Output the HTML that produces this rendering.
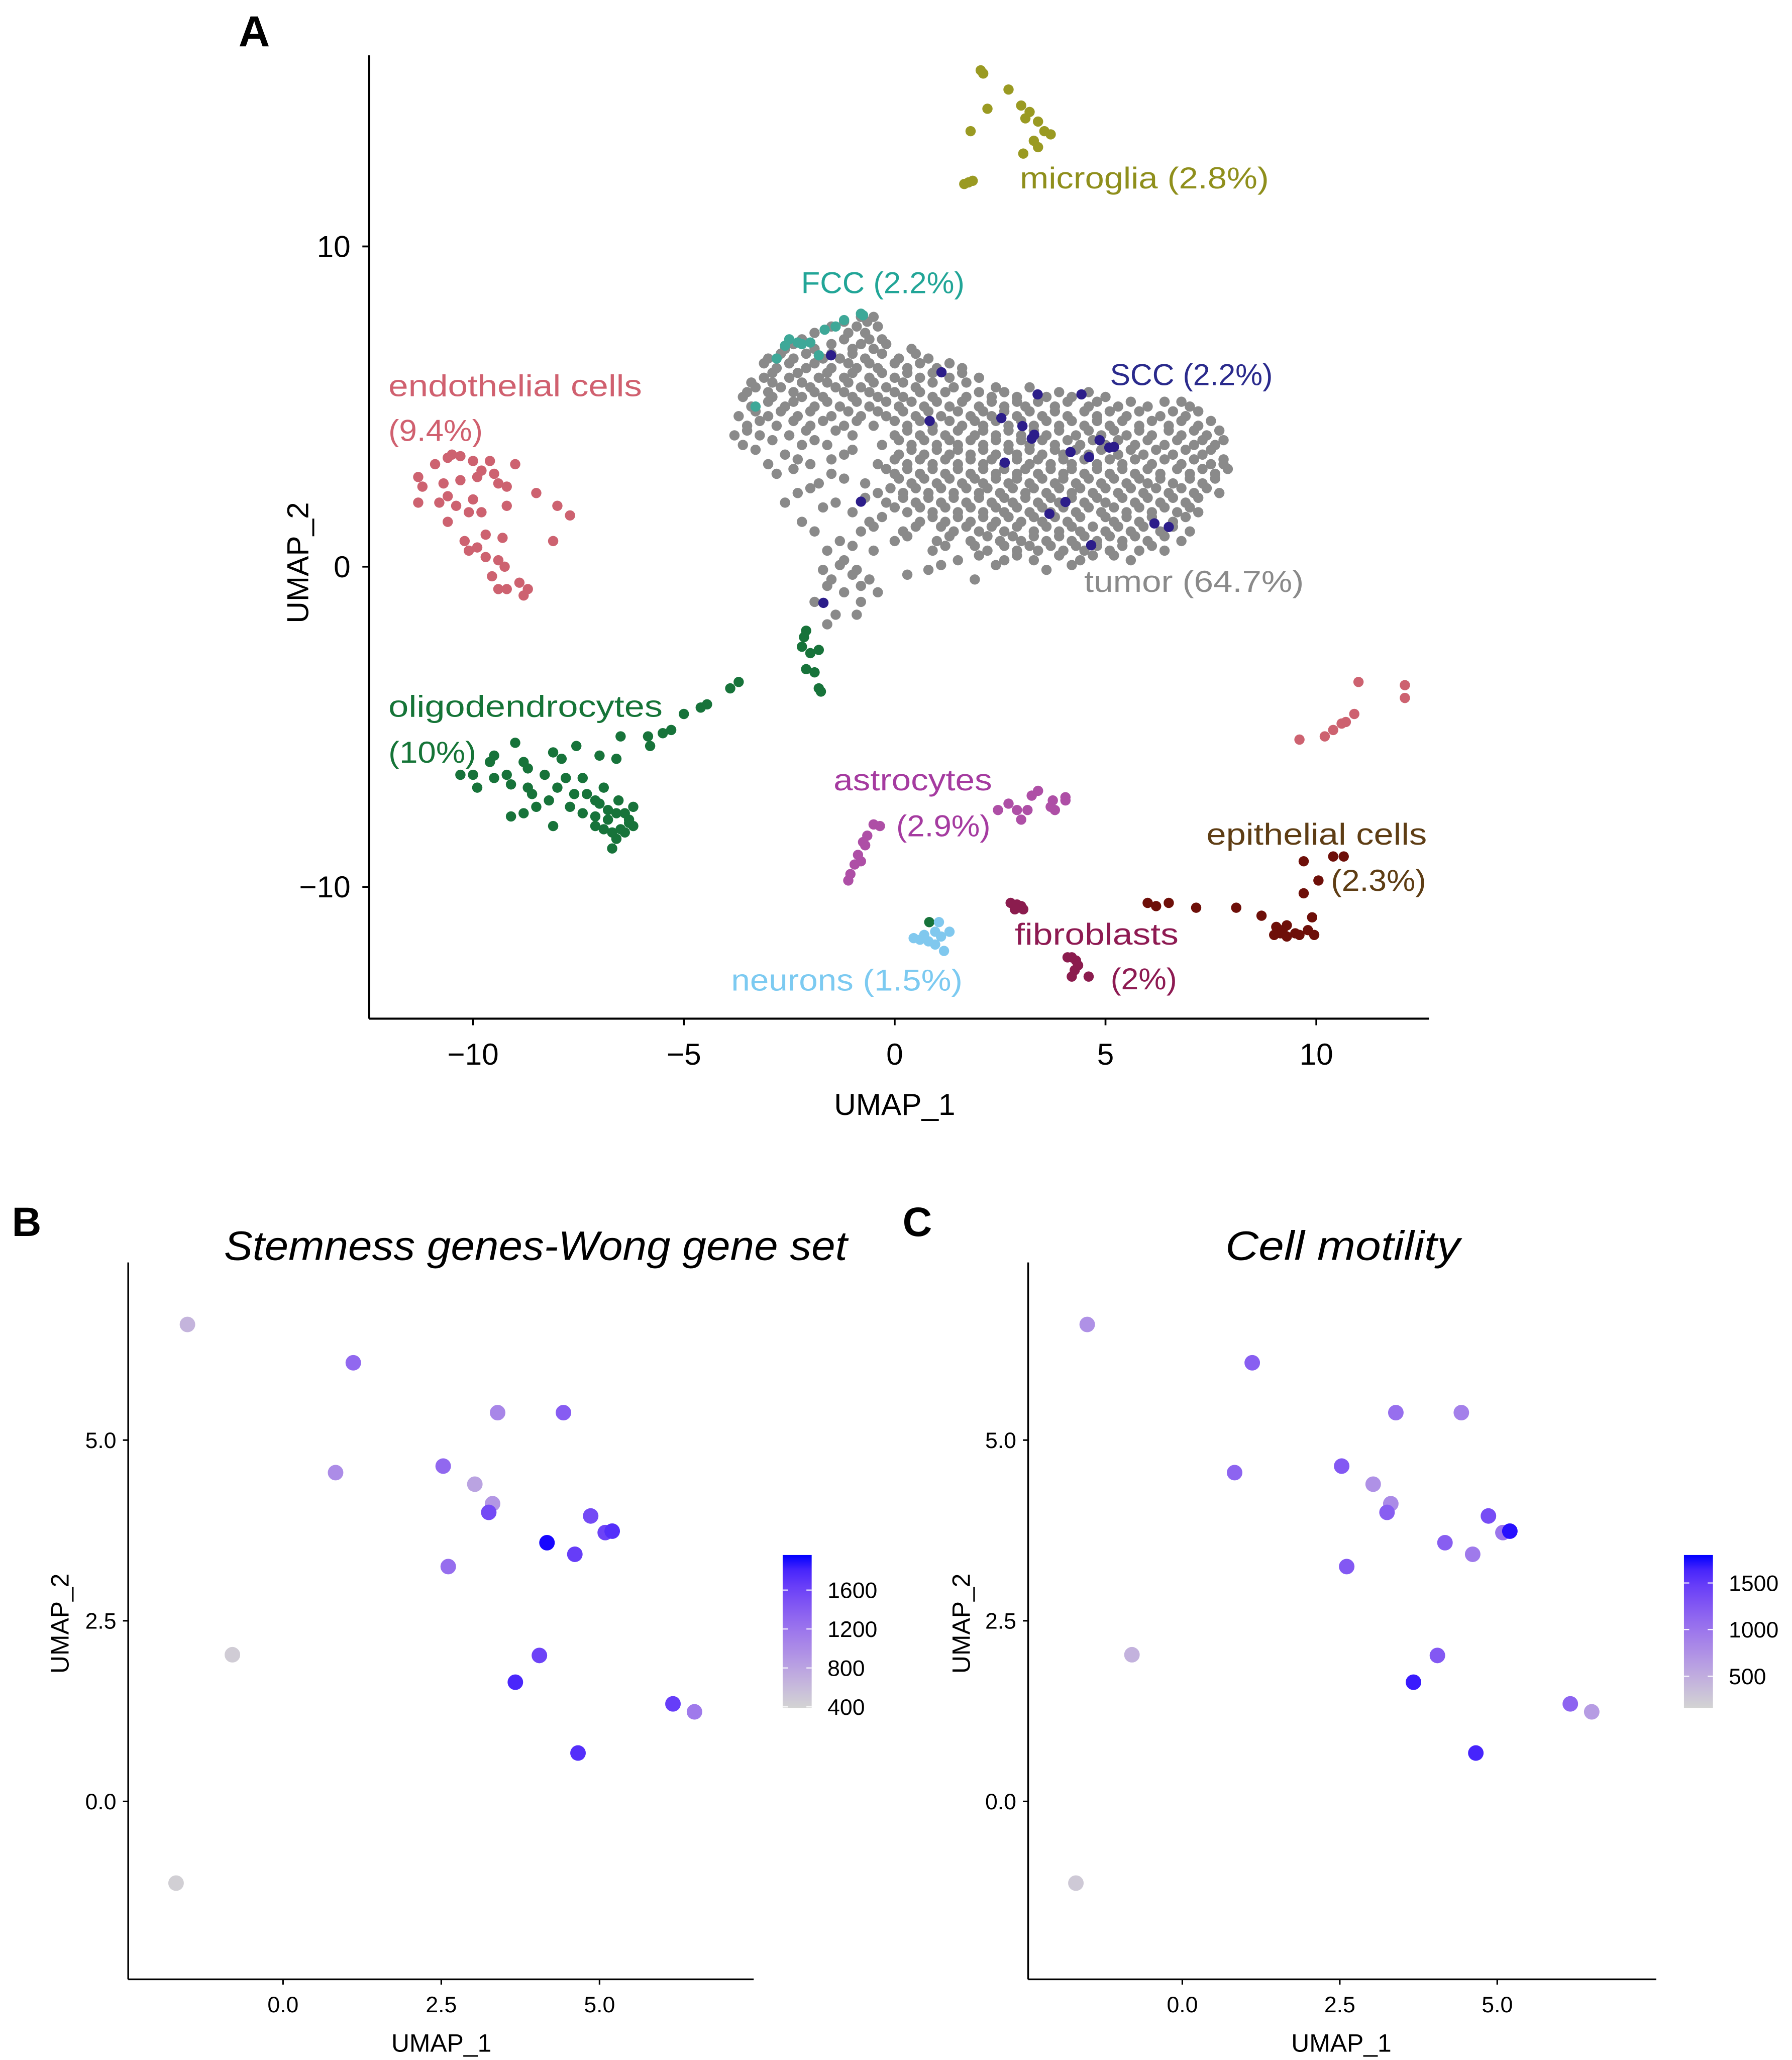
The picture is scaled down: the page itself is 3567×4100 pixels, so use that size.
<!DOCTYPE html>
<html><head><meta charset="utf-8"><title>UMAP figure</title>
<style>
html,body{margin:0;padding:0;background:#fff;}
svg{display:block;font-family:"Liberation Sans",sans-serif;}
</style></head>
<body>
<svg id="fig" xmlns="http://www.w3.org/2000/svg" width="3567" height="4100" viewBox="0 0 1360 1563.2">
<rect x="0" y="0" width="1360" height="1563.2" fill="#fff"/>
<!-- Panel A -->
<g id="panelA">
  <text x="181" y="35" font-size="33" font-weight="bold">A</text>
  <line x1="280.2" y1="42" x2="280.2" y2="773" stroke="#000" stroke-width="1.6"/>
  <line x1="280.2" y1="773" x2="1084.5" y2="773" stroke="#000" stroke-width="1.6"/>
  <text x="679" y="846" font-size="23" text-anchor="middle">UMAP_1</text>
  <text transform="translate(234,427) rotate(-90)" font-size="23" text-anchor="middle">UMAP_2</text>
  <g id="aPts"></g>
  <g id="aTicks"></g>
  <g font-size="23">
    <text x="774" y="143" textLength="189" lengthAdjust="spacingAndGlyphs" fill="#8f8f1c">microglia (2.8%)</text>
    <text x="608" y="222.5" textLength="124" lengthAdjust="spacingAndGlyphs" fill="#21a597">FCC (2.2%)</text>
    <text x="842.4" y="292.3" textLength="123.5" lengthAdjust="spacingAndGlyphs" fill="#2a2a8c">SCC (2.2%)</text>
    <text x="294.8" y="300.7" textLength="192.4" lengthAdjust="spacingAndGlyphs" fill="#d0606f">endothelial cells</text>
    <text x="294.8" y="334.6" textLength="71.6" lengthAdjust="spacingAndGlyphs" fill="#d0606f">(9.4%)</text>
    <text x="822.8" y="449.2" textLength="166.7" lengthAdjust="spacingAndGlyphs" fill="#8a8a8a">tumor (64.7%)</text>
    <text x="294.8" y="543.9" textLength="208.1" lengthAdjust="spacingAndGlyphs" fill="#157437">oligodendrocytes</text>
    <text x="294.8" y="578.8" textLength="66.6" lengthAdjust="spacingAndGlyphs" fill="#157437">(10%)</text>
    <text x="632.6" y="599.7" textLength="120.3" lengthAdjust="spacingAndGlyphs" fill="#a53ba0">astrocytes</text>
    <text x="680.2" y="634.6" textLength="71.5" lengthAdjust="spacingAndGlyphs" fill="#a53ba0">(2.9%)</text>
    <text x="915.6" y="641" textLength="167.3" lengthAdjust="spacingAndGlyphs" fill="#5e3d14">epithelial cells</text>
    <text x="1010.1" y="675.9" textLength="72.2" lengthAdjust="spacingAndGlyphs" fill="#5e3d14">(2.3%)</text>
    <text x="770.2" y="716.8" textLength="124.2" lengthAdjust="spacingAndGlyphs" fill="#8e1a52">fibroblasts</text>
    <text x="842.9" y="750.7" textLength="50.3" lengthAdjust="spacingAndGlyphs" fill="#8e1a52">(2%)</text>
    <text x="554.9" y="751.7" textLength="175.6" lengthAdjust="spacingAndGlyphs" fill="#7ccaf1">neurons (1.5%)</text>
  </g>
</g>
<!-- Panel B -->
<g id="panelB">
  <text x="9" y="938" font-size="31" font-weight="bold">B</text>
  <text x="170" y="956" font-size="31" font-style="italic" textLength="473" lengthAdjust="spacingAndGlyphs">Stemness genes-Wong gene set</text>
  <line x1="97.3" y1="958" x2="97.3" y2="1502" stroke="#000" stroke-width="1.3"/>
  <line x1="97.3" y1="1502" x2="572" y2="1502" stroke="#000" stroke-width="1.3"/>
  <text x="335" y="1557" font-size="19" text-anchor="middle">UMAP_1</text>
  <text transform="translate(52,1232) rotate(-90)" font-size="19" text-anchor="middle">UMAP_2</text>
  <g id="bTicks"></g>
  <g id="bPts"></g>
  <g id="bLegend"></g>
</g>
<!-- Panel C -->
<g id="panelC">
  <text x="685" y="938" font-size="31" font-weight="bold">C</text>
  <text x="930" y="956" font-size="31" font-style="italic" textLength="178" lengthAdjust="spacingAndGlyphs">Cell motility</text>
  <line x1="780.3" y1="958" x2="780.3" y2="1502" stroke="#000" stroke-width="1.3"/>
  <line x1="780.3" y1="1502" x2="1257" y2="1502" stroke="#000" stroke-width="1.3"/>
  <text x="1018" y="1557" font-size="19" text-anchor="middle">UMAP_1</text>
  <text transform="translate(736,1232) rotate(-90)" font-size="19" text-anchor="middle">UMAP_2</text>
  <g id="cTicks"></g>
  <g id="cPts"></g>
  <g id="cLegend"></g>
</g>
<defs id="defs"></defs>
</svg>
<script>
// ---------- Panel A data (UMAP coordinates) ----------
const microgliaPts = [[2.04,15.5],[2.1,15.4],[2.7,14.9],[2.2,14.3],[3.0,14.4],[3.2,14.2],[3.1,14.0],[3.4,13.9],[3.7,13.5],[3.55,13.6],[3.4,13.1],[3.3,13.3],[1.8,13.6],[3.05,12.9],[1.75,12.0],[1.65,11.95],[1.85,12.05]];
const fccPts = [[-2.8,6.5],[-2.6,6.9],[-2.5,7.1],[-2.3,7.0],[-2.0,7.0],[-1.66,7.4],[-1.2,7.7],[-1.4,7.5],[-0.8,7.9],[-0.75,7.85],[-3.3,5.0],[-1.8,6.6],[-2.2,6.95]];
const endothelialPts = [[-11.3,2.8],[-10.9,3.2],[-10.5,3.5],[-10.0,3.3],[-9.6,3.3],[-9.0,3.2],[-11.2,2.5],[-10.7,2.6],[-10.3,2.7],[-9.9,2.8],[-9.4,2.6],[-9.2,2.5],[-11.3,2.0],[-10.8,2.0],[-10.4,1.9],[-10.0,2.1],[-9.8,1.7],[-9.2,1.9],[-8.5,2.3],[-8.0,1.9],[-7.7,1.6],[-8.1,0.8],[-10.6,1.4],[-10.1,1.7],[-10.2,0.8],[-9.9,0.6],[-10.1,0.5],[-9.7,0.3],[-9.4,0.2],[-9.25,0.0],[-9.55,-0.3],[-9.4,-0.7],[-9.2,-0.7],[-8.9,-0.5],[-8.8,-0.9],[-8.7,-0.7],[-9.7,1.0],[-9.3,0.9],[-10.6,3.4],[-9.8,3.0],[-10.3,3.45],[-9.5,2.9],[-10.6,2.2],
  [11.0,-3.6],[12.1,-3.7],[12.1,-4.1],[10.9,-4.6],[10.6,-4.9],[10.4,-5.1],[10.2,-5.3],[9.6,-5.4],[10.7,-4.85]];
const oligoPts = [[-2.1,-2.0],[-2.2,-2.5],[-2.0,-2.7],[-1.8,-2.6],[-2.1,-3.2],[-1.9,-3.3],[-1.8,-3.8],[-1.75,-3.9],[-2.15,-2.2],[-3.7,-3.6],[-3.9,-3.8],[-4.45,-4.3],[-4.6,-4.4],[-5.0,-4.6],[-5.3,-5.1],[-5.5,-5.2],[-5.85,-5.3],[-5.8,-5.6],[-6.5,-5.3],[-6.6,-6.0],[-7.0,-5.9],[-7.55,-5.6],[-8.1,-5.8],[-9.0,-5.5],[-9.5,-5.9],[-9.6,-6.1],[-8.8,-6.1],[-10.3,-6.5],[-10.0,-6.5],[-9.9,-6.9],[-9.5,-6.6],[-9.1,-6.8],[-8.7,-6.3],[-8.3,-6.5],[-8.0,-6.9],[-7.8,-6.6],[-7.4,-6.6],[-7.3,-7.1],[-8.6,-7.1],[-8.2,-7.3],[-7.7,-7.5],[-8.8,-7.7],[-9.1,-7.8],[-8.1,-8.1],[-7.4,-7.7],[-7.1,-7.8],[-7.0,-7.4],[-6.8,-7.9],[-6.6,-7.7],[-6.55,-7.3],[-6.4,-7.7],[-6.3,-8.0],[-6.7,-8.3],[-6.9,-8.2],[-6.7,-8.8],[-6.5,-8.2],[-7.1,-8.1],[-8.7,-6.9],[-7.9,-6.0],[-6.4,-8.3],[-7.1,-7.3],[-7.6,-7.1],[-9.2,-6.5],[-8.5,-7.5],[-6.2,-7.5],[-6.9,-6.9],[-6.3,-7.9],[-6.6,-8.5],[-6.8,-7.6],[-6.2,-8.1],
  [0.82,-11.1]];
const astroPts = [[-1.1,-9.8],[-1.05,-9.6],[-0.95,-9.3],[-0.87,-9.0],[-0.7,-8.7],[-0.65,-8.4],[-0.5,-8.05],[-0.35,-8.1],[-0.8,-9.2],[-0.75,-8.6],[2.45,-7.6],[2.7,-7.4],[2.9,-7.6],[3.0,-7.9],[3.15,-7.6],[3.25,-7.15],[3.4,-7.0],[3.75,-7.3],[3.8,-7.6],[4.05,-7.2],[4.05,-7.3],[3.7,-7.5]];
const neuronPts = [[0.45,-11.6],[0.7,-11.5],[0.96,-11.4],[1.3,-11.4],[0.96,-11.8],[1.17,-12.0],[1.05,-11.1],[0.8,-11.7],[0.6,-11.65],[1.1,-11.55]];
const fibroPts = [[2.75,-10.5],[3.0,-10.6],[3.05,-10.7],[2.85,-10.7],[2.9,-10.55],[4.2,-12.2],[4.3,-12.3],[4.27,-12.6],[4.6,-12.8],[4.2,-12.8],[4.1,-12.2],[4.35,-12.45]];
const epithPts = [[6.0,-10.5],[6.2,-10.6],[6.5,-10.5],[7.15,-10.65],[8.1,-10.65],[8.7,-10.9],[9.05,-11.25],[9.15,-11.45],[9.3,-11.2],[9.5,-11.45],[9.0,-11.5],[9.3,-11.55],[9.6,-11.5],[9.9,-10.95],[9.95,-11.5],[9.7,-10.2],[10.05,-9.8],[9.7,-9.2],[10.4,-9.05],[10.65,-9.05],[9.8,-11.35],[9.2,-11.35]];
// tumor: rows of [y, [x values]]
const tumorRows = [
 [7.8,[-0.8,-0.5]],
 [7.5,[-1.5,-0.9,-0.4]],
 [7.1,[-2.2,-1.2,-0.6,-0.3]],
 [6.8,[-2.6,-1.9,-1.0,-0.5,0.4]],
 [6.5,[-3.0,-2.4,-1.7,-1.3,-0.7,0.1,0.8]],
 [6.2,[-2.8,-2.1,-1.5,-0.9,-0.4,0.3,1.0,1.6]],
 [5.9,[-3.1,-2.5,-1.8,-1.2,-0.6,0.0,0.6,1.3,2.0]],
 [5.6,[-3.3,-2.7,-2.0,-1.4,-0.8,-0.2,0.5,1.4,2.4,3.2]],
 [5.3,[-3.6,-2.9,-2.2,-1.7,-1.0,-0.4,0.2,0.9,1.7,2.3,2.9,3.6,4.2,5.0]],
 [5.0,[-3.4,-2.6,-1.9,-1.3,-0.6,0.1,0.7,1.3,2.0,2.6,3.1,3.8,4.6,5.3,6.0,7.0]],
 [4.7,[-3.7,-3.0,-2.3,-1.5,-0.8,-0.2,0.5,1.1,1.8,2.3,2.9,3.5,4.1,4.8,5.5,6.3,6.9]],
 [4.4,[-3.5,-2.8,-2.0,-1.2,-0.5,0.3,0.9,1.6,2.1,2.7,3.3,3.9,4.5,5.1,5.8,6.5,7.2]],
 [4.1,[-3.8,-3.2,-2.5,-1.0,0.0,0.6,1.2,1.9,2.4,3.0,3.6,4.3,4.9,5.5,6.1,6.8,7.4]],
 [3.8,[-3.6,-2.2,-1.6,-0.3,0.4,1.0,1.5,2.1,2.7,3.2,3.8,4.4,5.0,5.7,6.4,7.1,7.6]],
 [3.5,[-2.6,-1.2,0.1,0.7,1.3,1.8,2.4,2.9,3.5,4.0,4.6,5.3,5.9,6.6,7.3]],
 [3.2,[-3.0,-2.0,-0.4,0.3,0.9,1.5,2.1,2.6,3.2,3.7,4.2,4.8,5.4,6.1,6.8,7.5,7.8]],
 [2.9,[-2.8,-1.5,0.0,0.6,1.2,1.8,2.4,2.9,3.4,4.0,4.5,5.1,5.7,6.3,7.0,7.6]],
 [2.6,[-1.8,-0.7,0.4,1.0,1.6,2.1,2.7,3.2,3.8,4.3,4.9,5.5,6.0,6.6,7.3]],
 [2.3,[-2.3,-0.4,0.2,0.8,1.4,2.0,2.5,3.1,3.6,4.2,4.7,5.3,5.9,6.5,7.1,7.7]],
 [2.0,[-2.6,-1.4,-0.2,0.5,1.1,1.7,2.3,2.8,3.4,3.9,4.5,5.0,5.7,6.3,6.9]],
 [1.7,[-1.0,0.3,0.9,1.5,2.1,2.6,3.2,3.7,4.3,4.9,5.5,6.1,6.7,7.2]],
 [1.4,[-2.2,-0.6,0.6,1.2,1.8,2.4,3.0,3.5,4.1,5.2,5.8,6.6]],
 [1.1,[-1.9,-0.8,0.2,1.4,2.0,2.6,3.3,3.9,4.4,5.0,5.6,6.3,7.0]],
 [0.8,[-1.3,0.0,1.0,1.8,2.5,3.0,3.6,4.2,4.8,5.4,6.0,6.8]],
 [0.5,[-1.6,-0.5,0.9,2.2,2.9,3.4,4.0,4.5,5.1,5.8,6.4]],
 [0.2,[-1.2,1.5,2.6,3.3,4.4,5.6]],
 [-0.1,[-1.7,-0.9,0.8,3.6]],
 [-0.4,[-1.5,-0.6,1.9]],
 [-0.8,[-1.2,-0.4]],
 [-1.1,[-1.9,-0.8]],
 [-1.5,[-1.4,-0.9]],
 [-1.8,[-1.6]]
];
const tumorRows2 = [
 [7.65,[-1.2,-0.65]],
 [7.3,[-1.9,-1.1,-0.7]],
 [6.95,[-2.4,-1.5,-0.8,-0.2]],
 [6.65,[-2.7,-2.1,-1.5,-1.0,-0.3,0.5]],
 [6.35,[-3.1,-2.5,-1.9,-1.1,-0.6,0.0,0.6,1.3]],
 [6.05,[-2.9,-2.3,-1.6,-1.0,-0.3,0.3,0.9,1.6]],
 [5.75,[-3.4,-2.9,-2.2,-1.6,-1.1,-0.5,0.2,0.9,1.7]],
 [5.45,[-3.5,-3.0,-2.4,-1.9,-1.2,-0.6,0.0,0.6,1.2,2.0,2.6,3.9,4.6]],
 [5.15,[-3.0,-2.4,-1.6,-0.9,-0.2,0.4,1.0,1.6,2.3,2.9,3.4,4.1,4.8,5.6,6.4,6.8]],
 [4.85,[-3.3,-2.7,-2.0,-1.1,-0.4,0.2,0.8,1.5,2.1,2.6,3.2,3.8,4.5,5.1,5.8,6.6,7.2]],
 [4.55,[-3.2,-2.4,-1.7,-0.9,0.0,0.6,1.3,1.9,2.4,3.0,3.6,4.2,4.8,5.4,6.1,6.8,7.5]],
 [4.25,[-3.5,-2.1,-1.4,0.3,0.9,1.5,2.1,2.7,3.3,3.9,4.6,5.2,5.8,6.5,7.1,7.7]],
 [3.95,[-2.9,-1.9,0.1,0.7,1.3,1.8,2.4,3.0,3.5,4.1,4.7,5.3,6.0,6.7,7.3,7.8]],
 [3.65,[-3.3,-1.0,0.4,1.0,1.5,2.1,2.7,3.2,3.8,4.3,4.9,5.6,6.2,6.9,7.5]],
 [3.35,[-2.3,-1.5,0.0,0.6,1.2,1.8,2.3,2.9,3.4,4.0,4.5,5.1,5.7,6.4,7.1,7.8]],
 [3.05,[-2.4,-0.2,0.3,0.9,1.5,2.1,2.6,3.1,3.7,4.2,4.8,5.4,6.0,6.7,7.3,7.9]],
 [2.75,[-1.2,0.1,0.7,1.3,1.9,2.4,2.9,3.5,4.0,4.6,5.2,5.8,6.3,7.0,7.6]],
 [2.45,[-2.0,-0.1,0.5,1.1,1.7,2.2,2.8,3.3,3.9,4.4,5.0,5.6,6.2,6.8,7.4]],
 [2.15,[-0.7,0.2,0.8,1.4,2.0,2.6,3.1,3.7,4.2,4.8,5.4,6.0,6.6,7.2]],
 [1.85,[-1.7,0.0,0.6,1.2,1.8,2.4,2.9,3.5,4.0,4.6,5.2,5.8,6.4,7.0]],
 [1.55,[-0.3,0.9,1.5,2.1,2.7,3.3,3.8,4.4,5.0,5.5,6.1,6.9]],
 [1.25,[-0.5,0.5,1.1,1.7,2.3,2.9,3.6,4.2,4.7,5.3,5.9,6.6]],
 [0.95,[0.3,1.3,2.2,2.8,3.3,3.9,4.5,5.1,5.7,6.4]],
 [0.65,[-1.0,1.2,1.9,2.6,3.2,3.7,4.3,4.8,5.4,6.1]],
 [0.35,[2.0,2.9,3.9,4.7,5.2]],
 [0.05,[-1.3,1.1,2.4,4.2]],
 [-0.25,[-1.0,0.3]],
 [-0.6,[-1.6,-0.8]]
];
// SCC cells (shared with panels B and C)
const sccX = [-1.51,1.11,3.39,4.43,0.83,2.53,3.03,3.31,3.25,4.86,4.17,4.61,5.09,5.2,2.61,-0.8,4.05,3.67,6.16,6.5,4.66,-1.69];
const sccY = [6.6,6.07,5.38,5.38,4.55,4.64,4.39,4.12,4.0,3.95,3.58,3.42,3.72,3.74,3.25,2.03,2.02,1.65,1.35,1.24,0.67,-1.13];
const stemnessVals = [650,1300,1050,1400,1000,1300,800,900,1550,1550,1940,1650,1600,1750,1250,450,1600,1800,1650,1150,1750,420];
const motilityVals = [750,1200,1050,900,1150,1250,750,800,1200,1350,1200,950,1000,1750,1250,450,1250,1700,1150,650,1650,250];
const aXTicks = [-10,-5,0,5,10];
const aXTickLabels = ["\u221210","\u22125","0","5","10"];
const aYTicks = [-10,0,10];
const aYTickLabels = ["\u221210","0","10"];
const bcTicks = [0,2.5,5];
const bcTickLabels = ["0.0","2.5","5.0"];
const bLegendVals = [400,800,1200,1600];
const cLegendVals = [500,1000,1500];

// ---------- helpers ----------
const NS = "http://www.w3.org/2000/svg";
function mk(tag, attrs, parent){ const e=document.createElementNS(NS,tag); for(const k in attrs) e.setAttribute(k,attrs[k]); parent.appendChild(e); return e; }
const ax = x => 679 + 32.0*x;
const ay = y => 430 - 24.3*y;
const bx = x => 214.8 + 48.04*x;
const cx = x => 897.3 + 47.8*x;
const by = y => 1367 - 54.84*y;

function s2l(c){c/=255;return c<=0.04045?c/12.92:Math.pow((c+0.055)/1.055,2.4);}
function l2s(c){c=c<=0.0031308?12.92*c:1.055*Math.pow(c,1/2.4)-0.055;return Math.max(0,Math.min(255,Math.round(c*255)));}
function toLab(r,g,b){r=s2l(r);g=s2l(g);b=s2l(b);
 let X=(0.4124*r+0.3576*g+0.1805*b)/0.95047,Y=(0.2126*r+0.7152*g+0.0722*b),Z=(0.0193*r+0.1192*g+0.9505*b)/1.08883;
 const f=t=>t>0.008856?Math.cbrt(t):7.787*t+16/116;
 return [116*f(Y)-16,500*(f(X)-f(Y)),200*(f(Y)-f(Z))];}
function fromLab(L,a,b){const fy=(L+16)/116,fx=fy+a/500,fz=fy-b/200;
 const fi=t=>t*t*t>0.008856?t*t*t:(t-16/116)/7.787;
 const X=fi(fx)*0.95047,Y=fi(fy),Z=fi(fz)*1.08883;
 const r=3.2406*X-1.5372*Y-0.4986*Z,g=-0.9689*X+1.8758*Y+0.0415*Z,bb=0.0557*X-0.2040*Y+1.0570*Z;
 return "rgb("+l2s(r)+","+l2s(g)+","+l2s(bb)+")";}
const LOW=toLab(211,211,211), HIGH=toLab(0,0,255);
function grad(t){t=Math.max(0,Math.min(1,t));return fromLab(LOW[0]+(HIGH[0]-LOW[0])*t,LOW[1]+(HIGH[1]-LOW[1])*t,LOW[2]+(HIGH[2]-LOW[2])*t);}

// ---------- Panel A points ----------
const gA = document.getElementById("aPts");
function drawCluster(pts, color, name){
  const g = mk("g",{fill:color},gA);
  
  
  pts.forEach(p=>{
    const c = mk("circle",{cx:ax(p[0]),cy:ay(p[1]),r:3.9},g);
    
    
  });
}
const tumorPts = [];
tumorRows.forEach(r=>r[1].forEach(x=>tumorPts.push([x,r[0]])));
tumorRows2.forEach(r=>r[1].forEach(x=>tumorPts.push([x,r[0]])));
drawCluster(endothelialPts,"#cd6270","endothelial");
drawCluster(oligoPts,"#17733a","oligodendrocyte");
drawCluster(tumorPts,"#8a8a8a","tumor");
drawCluster(fccPts,"#3ea898","fcc");
drawCluster(sccX.map((x,i)=>[x,sccY[i]]),"#2c1d8a","scc");
drawCluster(microgliaPts,"#9a9a22","microglia");
drawCluster(astroPts,"#ae4fa6","astrocyte");
drawCluster(neuronPts,"#80c8ee","neuron");
drawCluster(fibroPts,"#8b1c4e","fibroblast");
drawCluster(epithPts,"#6e0f09","epithelial");

// ---------- Panel A ticks ----------
const gAT = document.getElementById("aTicks");
aXTicks.forEach((v,i)=>{
  const l = mk("line",{x1:ax(v),x2:ax(v),y1:773,y2:778,stroke:"#000","stroke-width":1.4},gAT);
  
  
  const t = mk("text",{x:ax(v),y:808,"font-size":23,"text-anchor":"middle"},gAT);
  t.textContent = aXTickLabels[i];
  
  
});
aYTicks.forEach((v,i)=>{
  const l = mk("line",{x1:275,x2:280.2,y1:ay(v),y2:ay(v),stroke:"#000","stroke-width":1.4},gAT);
  
  
  const t = mk("text",{x:266,y:ay(v)+8,"font-size":23,"text-anchor":"end"},gAT);
  t.textContent = aYTickLabels[i];
  
  
});

// ---------- Panels B & C ----------
function drawPanel(key, xs, xAxis, vals, vmin, vmax, legendVals, barX){
  const gT = document.getElementById(key+"Ticks");
  bcTicks.forEach((v,i)=>{
    const l = mk("line",{x1:xs(v),x2:xs(v),y1:1502,y2:1506,stroke:"#000","stroke-width":1.2},gT);
    
    
    const t = mk("text",{x:xs(v),y:1527,"font-size":17,"text-anchor":"middle"},gT);
    t.textContent = bcTickLabels[i];
    
    
    const l2 = mk("line",{x1:xAxis-4,x2:xAxis,y1:by(v),y2:by(v),stroke:"#000","stroke-width":1.2},gT);
    
    
    const t2 = mk("text",{x:xAxis-9,y:by(v)+6,"font-size":17,"text-anchor":"end"},gT);
    t2.textContent = bcTickLabels[i];
    
    
  });
  const gP = document.getElementById(key+"Pts");
  sccX.forEach((x,i)=>{
    const c = mk("circle",{cx:xs(x),cy:by(sccY[i]),r:5.9,fill:grad((vals[i]-vmin)/(vmax-vmin))},gP);
    
    
  });
  const defs = document.getElementById("defs");
  const lg = mk("linearGradient",{id:key+"Grad",x1:0,y1:1,x2:0,y2:0},defs);
  for(let s=0;s<=10;s++){ mk("stop",{offset:(s/10),"stop-color":grad(s/10)},lg); }
  const gL = document.getElementById(key+"Legend");
  const top=1180, bot=1296;
  const bar = mk("rect",{x:barX,y:top,width:22,height:bot-top,fill:"url(#"+key+"Grad)"},gL);
  
  
  legendVals.forEach(v=>{
    const yy = bot - (v-vmin)/(vmax-vmin)*(bot-top);
    const t1 = mk("line",{x1:barX,x2:barX+4,y1:yy,y2:yy,stroke:"#fff","stroke-width":0.8},gL);
    
    
    const t2 = mk("line",{x1:barX+18,x2:barX+22,y1:yy,y2:yy,stroke:"#fff","stroke-width":0.8},gL);
    
    
    const t = mk("text",{x:barX+34,y:yy+6,"font-size":17},gL);
    t.textContent = String(v);
    
    
  });
}
drawPanel("b", bx, 97.3, stemnessVals, 390, 1960, bLegendVals, 594);
drawPanel("c", cx, 780.3, motilityVals, 160, 1800, cLegendVals, 1278);
</script>
</body></html>
